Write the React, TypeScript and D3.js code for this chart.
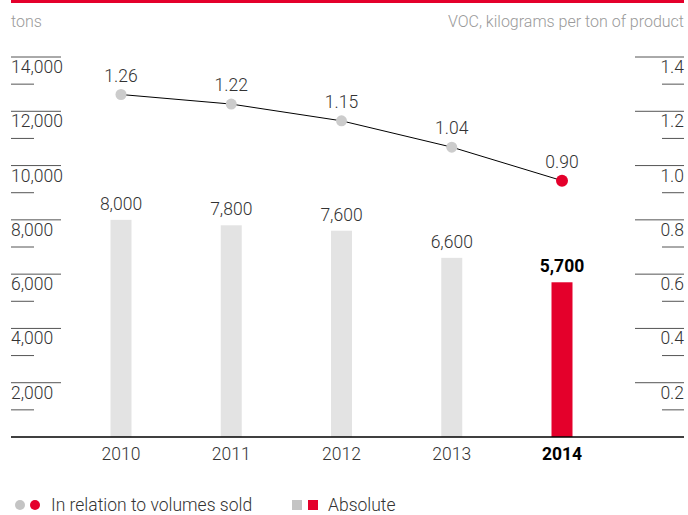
import React from "react";
import * as d3 from "d3";

const years = ["2010", "2011", "2012", "2013", "2014"];
const absolute = [8000, 7800, 7600, 6600, 5700];
const relative = [1.26, 1.22, 1.15, 1.04, 0.9];
const leftTicks = [2000, 4000, 6000, 8000, 10000, 12000, 14000];
const leftMinor = [1000, 3000, 5000, 7000, 9000, 11000, 13000];
const rightTicks = [0.2, 0.4, 0.6, 0.8, 1.0, 1.2, 1.4];
const rightMinor = [0.1, 0.3, 0.5, 0.7, 0.9, 1.1, 1.3];

const RED = "#e4002b";
const FONT = "Roboto, 'Liberation Sans', Arial, sans-serif";

export default function App() {
  const W = 688, H = 515;
  const x = d3.scalePoint<string>().domain(years).range([121, 562]);
  const yL = d3.scaleLinear().domain([0, 14000]).range([437, 57]);
  const yR = d3.scaleLinear().domain([0, 1.4]).range([437, 57]);
  const yLine = d3.scaleLinear().domain([0, 1.4]).range([396, 61]);
  const fmt = d3.format(",");
  const fmtR = d3.format(".1f");
  const fmtP = d3.format(".2f");
  const line = d3
    .line<number>()
    .x((_, i) => x(years[i])!)
    .y((d) => yLine(d));
  const last = years.length - 1;
  const bw = 21;
  const fs = 17.5;

  return (
    <svg width={W} height={H} style={{ position: "absolute", left: 0, top: 0 }} fontFamily={FONT}>
      <rect x={11} y={0} width={673} height={3} fill={RED} />
      <text x={11} y={27} fontSize={16} fill="#9a9a9a" fontWeight={300}>tons</text>
      <text x={684} y={27} fontSize={16} fill="#9a9a9a" fontWeight={300} textAnchor="end">
        VOC, kilograms per ton of product
      </text>

      {leftTicks.map((t) => (
        <g key={"l" + t}>
          <line x1={11} x2={61} y1={yL(t)} y2={yL(t)} stroke="#555" strokeWidth={1} />
          <text x={11} y={yL(t) + 16} fontSize={fs} fill="#333" fontWeight={300}>{fmt(t)}</text>
        </g>
      ))}
      {leftMinor.map((t) => (
        <line key={"lm" + t} x1={11} x2={34} y1={yL(t)} y2={yL(t)} stroke="#555" strokeWidth={1} />
      ))}
      {rightTicks.map((t) => (
        <g key={"r" + t}>
          <line x1={635} x2={684} y1={yR(t)} y2={yR(t)} stroke="#555" strokeWidth={1} />
          <text x={684} y={yR(t) + 16} fontSize={fs} fill="#333" fontWeight={300} textAnchor="end">{fmtR(t)}</text>
        </g>
      ))}
      {rightMinor.map((t) => (
        <line key={"rm" + t} x1={662} x2={684} y1={yR(t)} y2={yR(t)} stroke="#555" strokeWidth={1} />
      ))}

      {absolute.map((v, i) => (
        <g key={"b" + i}>
          <rect
            x={x(years[i])! - bw / 2}
            y={yL(v)}
            width={bw}
            height={yL(0) - yL(v)}
            fill={i === last ? RED : "#e3e3e3"}
          />
          <text
            x={x(years[i])!}
            y={yL(v) - 10}
            textAnchor="middle"
            fontSize={fs}
            fill={i === last ? "#000" : "#333"}
            fontWeight={i === last ? 700 : 300}
          >
            {fmt(v)}
          </text>
          <text
            x={x(years[i])!}
            y={460}
            textAnchor="middle"
            fontSize={fs}
            fill={i === last ? "#000" : "#333"}
            fontWeight={i === last ? 700 : 300}
          >
            {years[i]}
          </text>
        </g>
      ))}

      <line x1={11} x2={684} y1={yL(0)} y2={yL(0)} stroke="#000" strokeWidth={1.5} />

      <path d={line(relative)!} fill="none" stroke="#000" strokeWidth={1} />
      {relative.map((v, i) => (
        <g key={"p" + i}>
          <circle cx={x(years[i])!} cy={yLine(v)} r={i === last ? 6 : 5.5} fill={i === last ? RED : "#cccccc"} />
          <text x={x(years[i])!} y={yLine(v) - 13} textAnchor="middle" fontSize={fs} fill="#333" fontWeight={300}>
            {fmtP(v)}
          </text>
        </g>
      ))}

      <circle cx={20} cy={505} r={5} fill="#c4c4c4" />
      <circle cx={35} cy={505} r={5} fill={RED} />
      <text x={51} y={511} fontSize={17.5} fill="#333" fontWeight={300}>In relation to volumes sold</text>
      <rect x={292} y={500} width={10} height={10} fill="#c4c4c4" />
      <rect x={308} y={500} width={10} height={10} fill={RED} />
      <text x={328} y={511} fontSize={17.5} fill="#333" fontWeight={300}>Absolute</text>
    </svg>
  );
}
